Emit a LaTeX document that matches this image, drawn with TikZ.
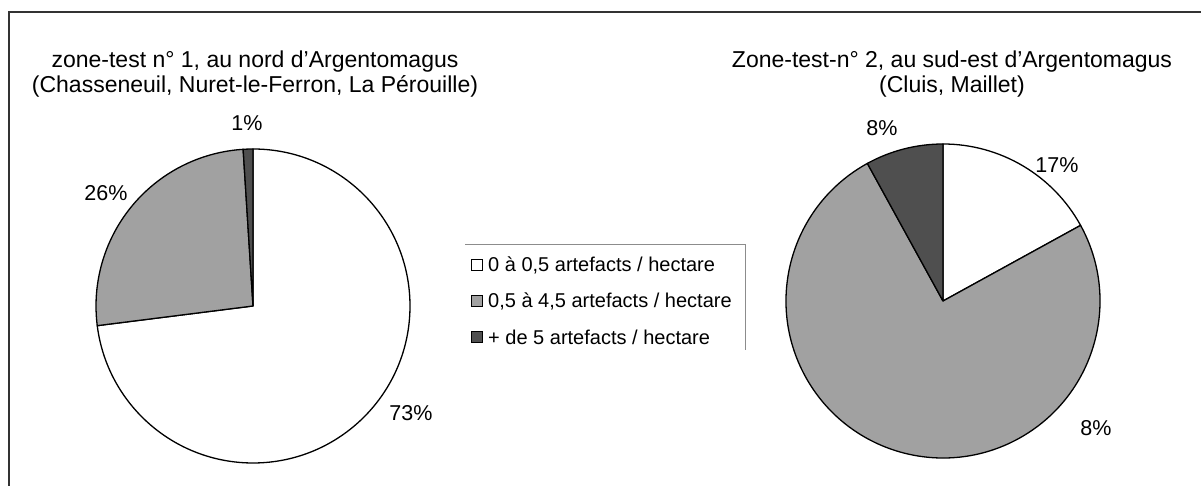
\documentclass[tikz,border=0pt]{standalone}
\usepackage{fontspec}
\setmainfont{Liberation Sans}

\begin{document}
\begin{tikzpicture}[
            x = 1bp, y = 1bp,
            slice/.style = {draw = black, line width = 1.3bp, line join = round},
            whitepart/.style = {slice, fill = white},
            graypart/.style = {slice, fill = black!37},
            darkpart/.style = {slice, fill = black!69},
            title/.style = {align = center, font = \fontsize{23bp}{25bp}\selectfont},
            pct/.style = {font = \fontsize{21.5bp}{24bp}\selectfont},
            legtext/.style = {anchor = west, inner sep = 0pt, font = \fontsize{20bp}{22bp}\selectfont},
            legbox/.style = {draw = black, line width = 1bp, minimum size = 10.5bp, inner sep = 0pt}
            ]
            \useasboundingbox (0,0) rectangle (1201,486);
            % frame
            \coordinate (frameA) at (9,0);
            \coordinate (frameB) at (9,474);
            \coordinate (frameC) at (1201,474);
            \draw[line width = 1.5bp, black!80] (frameA) -- (frameB) -- (frameC);

            % zone-test 1
            \coordinate (pieA) at (253,180);
            \filldraw[whitepart] (pieA) -- ++(90:157) arc[start angle = 90, end angle = -172.8, radius = 157] -- cycle;
            \filldraw[graypart] (pieA) -- ++(187.2:157) arc[start angle = 187.2, end angle = 93.6, radius = 157] -- cycle;
            \filldraw[darkpart] (pieA) -- ++(93.6:157) arc[start angle = 93.6, end angle = 90, radius = 157] -- cycle;
            \node[title] (titleA) at (255,412) {zone-test n° 1, au nord d'Argentomagus\\(Chasseneuil, Nuret-le-Ferron, La Pérouille)};
            \node[pct] (pctA1) at (247,363) {1\%};
            \node[pct] (pctA2) at (106,293) {26\%};
            \node[pct] (pctA3) at (411,73) {73\%};

            % zone-test 2
            \coordinate (pieB) at (943,185);
            \filldraw[whitepart] (pieB) -- ++(90:157) arc[start angle = 90, end angle = 28.8, radius = 157] -- cycle;
            \filldraw[graypart] (pieB) -- ++(28.8:157) arc[start angle = 28.8, end angle = -241.2, radius = 157] -- cycle;
            \filldraw[darkpart] (pieB) -- ++(118.8:157) arc[start angle = 118.8, end angle = 90, radius = 157] -- cycle;
            \node[title] (titleB) at (952,412) {Zone-test-n° 2, au sud-est d'Argentomagus\\(Cluis, Maillet)};
            \node[pct] (pctB1) at (882,358) {8\%};
            \node[pct] (pctB2) at (1057,321) {17\%};
            \node[pct] (pctB3) at (1096,58) {8\%};

            % legend
            \coordinate (legNW) at (465,241);
            \coordinate (legNE) at (745,241);
            \coordinate (legSE) at (745,136);
            \draw[black!45, line width = 1bp] (legNW) -- (legNE) -- (legSE);
            \node[legbox, fill = white] (keyA) at (477,221) {};
            \node[legbox, fill = black!37] (keyB) at (477,185) {};
            \node[legbox, fill = black!69] (keyC) at (477,149) {};
            \node[legtext] (legA) at (488,221) {0 à 0,5 artefacts / hectare};
            \node[legtext] (legB) at (488,185) {0,5 à 4,5 artefacts / hectare};
            \node[legtext] (legC) at (488,149) {+ de 5 artefacts / hectare};
          \end{tikzpicture}
\end{document}
